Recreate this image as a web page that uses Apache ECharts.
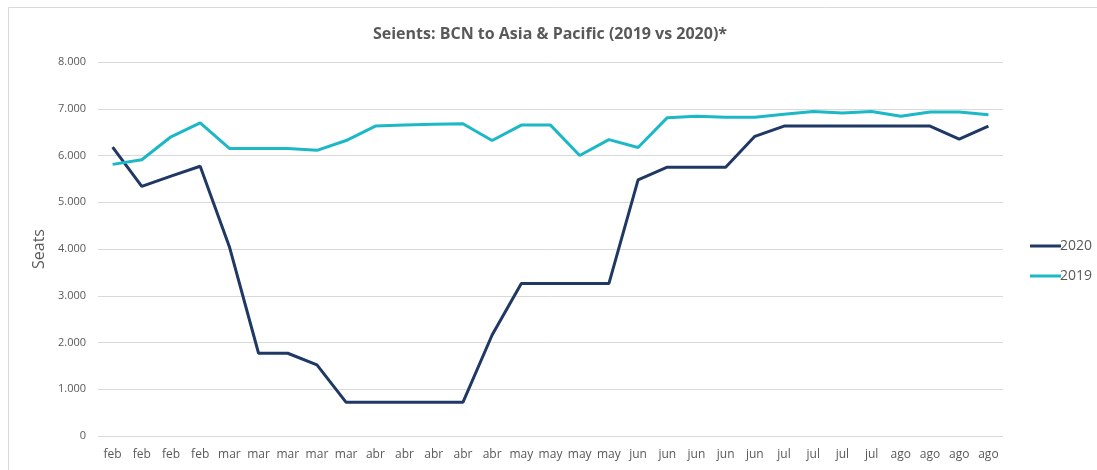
<!DOCTYPE html>
<html>
<head>
<meta charset="utf-8">
<script src="https://cdn.jsdelivr.net/npm/echarts@6/dist/echarts.min.js"></script>
<style>
  html, body { margin: 0; padding: 0; background: #fff; }
  #chart { width: 1097px; height: 470px; }
</style>
</head>
<body>
<div id="chart"></div>
<script>
// weekly labels, feb -> ago
const categories = [
  'feb', 'feb', 'feb', 'feb',
  'mar', 'mar', 'mar', 'mar', 'mar',
  'abr', 'abr', 'abr', 'abr', 'abr',
  'may', 'may', 'may', 'may',
  'jun', 'jun', 'jun', 'jun', 'jun',
  'jul', 'jul', 'jul', 'jul',
  'ago', 'ago', 'ago', 'ago'
]

const seats2020 = [
  6180, 5340, 5560, 5770,
  4050, 1770, 1770, 1520, 720,
  720, 720, 720, 720, 2160,
  3260, 3260, 3260, 3260,
  5480, 5750, 5750, 5750, 6410,
  6630, 6630, 6630, 6630,
  6630, 6630, 6350, 6630
]

const seats2019 = [
  5810, 5910, 6400, 6700,
  6150, 6150, 6150, 6110, 6320,
  6630, 6650, 6670, 6680, 6320,
  6650, 6650, 6000, 6340,
  6170, 6810, 6840, 6820, 6820,
  6880, 6940, 6910, 6940,
  6840, 6930, 6930, 6870
]

const yTicks = [0, 1000, 2000, 3000, 4000, 5000, 6000, 7000, 8000]

const txt = '#595959'
const font = 'Open Sans'

const chart = echarts.init(document.getElementById('chart'))

chart.setOption({
  backgroundColor: '#fff',
  animation: false,
  textStyle: { fontFamily: font },
  graphic: [{
    type: 'rect',
    silent: true,
    shape: { x: 8.5, y: 7.5, width: 1200, height: 600 },
    style: { fill: 'none', stroke: '#d9d9d9', lineWidth: 1 }
  }],
  title: {
    text: 'Seients: BCN to Asia & Pacific (2019 vs 2020)*',
    left: 545,
    textAlign: 'center',
    top: 21,
    textStyle: { color: txt, fontSize: 16, fontWeight: 'bold', fontFamily: font }
  },
  legend: {
    orient: 'vertical',
    left: 1025,
    top: 234,
    icon: 'rect',
    itemWidth: 31,
    itemHeight: 3,
    itemGap: 16,
    data: ['2020', '2019'],
    textStyle: { color: txt, fontSize: 14, padding: [0, 0, 0, -6] }
  },
  grid: { left: 98, right: 94, top: 62, bottom: 34, containLabel: false },
  xAxis: {
    type: 'category',
    data: categories,
    boundaryGap: true,
    axisLine: { show: false },
    axisTick: { show: false },
    axisLabel: { color: txt, fontSize: 12, margin: 13, interval: 0 }
  },
  yAxis: {
    type: 'value',
    min: 0,
    max: 8000,
    interval: 1000,
    name: 'Seats',
    nameLocation: 'middle',
    nameGap: 50,
    nameTextStyle: { color: txt, fontSize: 16 },
    axisLine: { show: false },
    axisTick: { show: false },
    splitLine: { lineStyle: { color: '#d9d9d9', width: 1 } },
    axisLabel: {
      color: txt,
      fontSize: 11,
      margin: 12,
      formatter: v => yTicks.includes(v)
        ? (v === 0 ? '0' : (v / 1000).toFixed(3))
        : ''
    }
  },
  series: [
    {
      name: '2020',
      type: 'line',
      data: seats2020,
      symbol: 'none',
      lineStyle: { color: '#1f3864', width: 3 },
      itemStyle: { color: '#1f3864' }
    },
    {
      name: '2019',
      type: 'line',
      data: seats2019,
      symbol: 'none',
      lineStyle: { color: '#1cb8c6', width: 3 },
      itemStyle: { color: '#1cb8c6' }
    }
  ]
})
</script>
</body>
</html>
